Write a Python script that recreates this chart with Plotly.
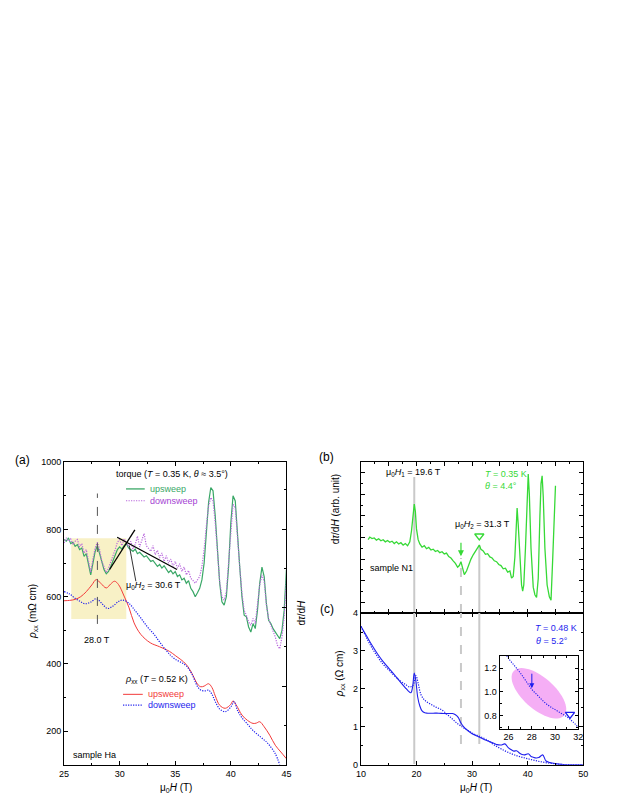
import numpy as np
import plotly.graph_objects as go

W, HH = 623, 806
FONT = "Liberation Sans, Arial, sans-serif"


def px(x):
    return x / W


def py(y):
    return 1 - y / HH


# ---------------- Panel (a) data ----------------
a_field = [round(25 + 0.2 * i, 1) for i in range(101)]
a_torque_up = [
    6.70, 6.65, 6.75, 6.58, 6.62, 6.50, 6.55, 6.40, 6.45, 6.20,
    6.28, 5.90, 5.65, 6.00, 6.35, 6.52, 6.25, 6.00, 5.80, 5.68,
    5.75, 5.90, 6.05, 6.25, 6.40, 6.48, 6.42, 6.52, 6.58, 6.45,
    6.40, 6.35, 6.42, 6.28, 6.32, 6.25, 6.18, 6.22, 6.12, 6.05,
    6.08, 6.00, 5.90, 5.96, 5.85, 5.92, 5.80, 5.72, 5.78, 5.68,
    5.75, 5.60, 5.65, 5.50, 5.55, 5.40, 5.48, 5.25, 5.15, 5.00,
    5.12, 5.25, 5.50, 6.00, 6.90, 7.80, 8.25, 8.15, 7.40, 6.40,
    5.40, 4.85, 4.75, 5.00, 5.90, 7.20, 8.00, 7.85, 7.00, 5.90,
    5.00, 4.45, 4.40, 4.10, 3.95, 4.20, 4.05, 4.60, 5.40, 5.88,
    5.60, 4.80, 4.30, 4.20, 4.05, 3.95, 3.85, 3.75, 4.00, 4.60,
    5.80]
a_torque_down = [
    6.60, 6.75, 6.65, 6.72, 6.55, 6.65, 6.70, 6.48, 6.58, 6.30,
    6.40, 6.00, 5.72, 6.12, 6.45, 6.62, 6.40, 6.05, 5.90, 5.72,
    5.85, 6.02, 6.20, 6.40, 6.62, 6.70, 6.52, 6.72, 6.60, 6.50,
    6.65, 6.42, 6.55, 6.80, 6.48, 6.70, 6.88, 6.52, 6.45, 6.35,
    6.52, 6.25, 6.38, 6.15, 6.30, 6.05, 6.22, 6.00, 6.12, 5.90,
    6.05, 5.85, 5.98, 5.75, 5.88, 5.65, 5.78, 5.55, 5.48, 5.40,
    5.50, 5.60, 5.90, 6.40, 7.10, 7.70, 7.95, 7.85, 7.20, 6.30,
    5.45, 5.00, 4.90, 5.15, 6.00, 7.10, 7.75, 7.65, 6.90, 5.90,
    5.10, 4.60, 4.45, 4.25, 4.15, 4.35, 4.20, 4.70, 5.35, 5.65,
    5.45, 4.75, 4.35, 4.15, 4.00, 3.80, 3.55, 3.45, 3.80, 4.40,
    5.50]

a_rho_up_H = [25, 25.5, 26, 26.5, 27, 27.5, 27.9, 28.3, 28.8, 29.2, 29.55, 29.9,
              30.4, 30.85, 31.3, 31.9, 32.75, 33.6, 34.5, 35, 35.5, 36, 36.5, 37,
              37.3, 37.6, 38, 38.3, 38.6, 39, 39.5, 40, 40.2, 40.5, 41, 41.5, 42,
              42.3, 42.6, 43, 43.5, 44, 44.5, 45]
a_rho_up = [588, 589, 592, 600, 615, 635, 651, 640, 626, 638, 646, 636,
            602, 567, 522, 488, 463, 451, 437, 425, 413, 398, 372, 340,
            332, 334, 341, 330, 305, 277, 268, 280, 290, 277, 248, 232, 223,
            224, 228, 213, 188, 158, 138, 118]

a_rho_down_H = [25, 25.5, 26, 26.5, 26.9, 27.4, 27.9, 28.4, 28.9, 29.4, 29.9, 30.3,
                30.85, 31.4, 31.9, 32.5, 33.1, 33.6, 34.2, 34.6, 35, 35.5, 36, 36.5,
                37, 37.3, 37.7, 38, 38.3, 38.6, 39, 39.5, 40, 40.3, 40.6, 41, 41.5,
                42, 42.7, 43.2, 43.5, 44, 44.4]
a_rho_down = [615, 608, 595, 585, 579, 584, 594, 580, 565, 572, 586, 590,
              580, 558, 537, 510, 488, 465, 440, 425, 414, 405, 394, 370,
              333, 322, 320, 322, 310, 288, 266, 258, 272, 288, 262, 240, 221,
              202, 182, 168, 157, 133, 100]

# ---------------- Panel (b) data ----------------
b_H = [11.3, 11.6, 12.0, 12.4, 12.8, 13.2, 13.6, 14.0, 14.4, 14.8,
       15.2, 15.6, 16.0, 16.4, 16.8, 17.2, 17.6, 18.0, 18.4, 18.8,
       19.1, 19.4, 19.6, 19.8, 20.0, 20.3, 20.6, 21.0, 21.4, 21.8,
       22.2, 22.6, 23.0, 23.4, 23.8, 24.2, 24.6, 25.0, 25.4, 25.8,
       26.2, 26.6, 27.0, 27.4, 27.7, 28.0, 28.3, 28.6, 29.0, 29.4,
       29.8, 30.2, 30.6, 31.0, 31.3, 31.6, 32.0, 32.4, 32.8, 33.2,
       33.6, 34.0, 34.4, 34.8, 35.2, 35.6, 36.0, 36.4, 36.8, 37.1,
       37.4, 37.7, 37.9, 38.1, 38.3, 38.6, 38.9, 39.1, 39.3, 39.6,
       39.9, 40.1, 40.3, 40.6, 41.0, 41.3, 41.6, 41.9, 42.2, 42.4,
       42.6, 42.8, 43.1, 43.5, 43.9, 44.2, 44.5, 44.8, 45.0]
b_dtau = [3.40, 3.52, 3.45, 3.48, 3.38, 3.44, 3.35, 3.40, 3.30, 3.36,
          3.28, 3.33, 3.22, 3.30, 3.20, 3.26, 3.15, 3.22, 3.12, 3.30,
          3.80, 4.60, 5.05, 4.70, 3.90, 3.40, 3.20, 3.05, 3.12, 2.98,
          3.04, 2.92, 2.96, 2.85, 2.90, 2.80, 2.84, 2.74, 2.78, 2.62,
          2.55, 2.42, 2.30, 2.12, 2.20, 2.38, 2.00, 1.78, 1.95, 2.25,
          2.50, 2.70, 2.88, 3.02, 3.15, 2.95, 2.88, 2.72, 2.75, 2.60,
          2.55, 2.42, 2.38, 2.25, 2.20, 2.05, 2.08, 1.90, 1.95, 1.62,
          1.70, 2.60, 4.00, 4.87, 4.10, 2.40, 1.30, 1.02, 1.30, 3.00,
          5.80, 6.44, 5.50, 3.00, 1.20, 0.85, 0.72, 1.60, 4.50, 6.00,
          6.36, 5.40, 3.00, 1.30, 0.75, 0.60, 2.50, 4.80, 5.90]
b_marker_H = [31.3]
b_marker_val = [3.57]

# ---------------- Panel (c) data ----------------
c_up_H = [10, 11, 12, 13, 14, 15, 16, 17, 18, 18.5, 19.0, 19.3, 19.6, 19.9, 20.2,
          20.6, 21.0, 21.5, 22, 23, 24, 25, 26, 26.5, 27, 27.5, 28, 28.5, 29, 30,
          31, 32, 33, 34, 34.5, 35.2, 35.9, 36.5, 37, 37.5, 38, 38.5, 39, 39.5,
          40.1, 40.6, 41, 41.5, 42, 42.7, 43.3, 44, 45, 46, 47, 50]
c_up = [3.65, 3.40, 3.15, 2.92, 2.72, 2.55, 2.38, 2.20, 2.03, 1.95, 1.90, 2.05,
        2.42, 2.20, 1.80, 1.55, 1.42, 1.37, 1.36, 1.36, 1.36, 1.35, 1.35, 1.35,
        1.32, 1.25, 1.10, 1.00, 0.93, 0.82, 0.75, 0.68, 0.62, 0.56, 0.53, 0.52,
        0.55, 0.45, 0.40, 0.36, 0.37, 0.31, 0.27, 0.26, 0.29, 0.22, 0.20, 0.18,
        0.19, 0.26, 0.10, 0.06, 0.03, 0.01, 0.0, 0.0]
c_down_H = [10, 11, 12, 13, 14, 15, 16, 17, 18, 18.8, 19.4, 19.9, 20.3, 20.8,
            21.5, 22.5, 23.5, 24.5, 25.5, 26.5, 27.5, 28.5, 29.5, 30.5, 31.5,
            32.5, 34, 36, 38, 40, 42, 44, 46, 48, 50]
c_down = [3.65, 3.35, 3.08, 2.85, 2.65, 2.50, 2.35, 2.22, 2.12, 2.05, 2.10, 2.35,
          2.15, 1.85, 1.70, 1.60, 1.52, 1.45, 1.33, 1.20, 1.07, 0.97, 0.88, 0.80,
          0.74, 0.67, 0.52, 0.36, 0.24, 0.16, 0.09, 0.04, 0.01, 0.0, 0.0]
inset_H = [25.6, 26.0, 26.5, 27.0, 27.5, 28.0, 28.5, 29.0, 29.5, 30.0, 30.5,
           31.0, 31.5, 32.0]
inset_rho = [1.34, 1.28, 1.22, 1.16, 1.09, 1.02, 0.97, 0.92, 0.88, 0.85, 0.82,
             0.79, 0.75, 0.70]
inset_marker_H = [31.28]
inset_marker_val = [0.81]

# ---------------- colours ----------------
GREEN_A = "#3aa767"
VIOLET = "#b866dd"
VIOLET_T = "#a53fd3"
RED = "#f23a3a"
BLUE = "#1e1eee"
GREEN_B = "#36d936"
GRAY = "#c9c9c9"
DOT = "1.2px,1.3px"

fig = go.Figure()

# Panel (a)
fig.add_trace(go.Scatter(x=a_rho_up_H, y=a_rho_up, mode="lines",
                         line=dict(color=RED, width=1, shape="spline"), xaxis="x", yaxis="y"))
fig.add_trace(go.Scatter(x=a_rho_down_H, y=a_rho_down, mode="lines",
                         line=dict(color=BLUE, width=1.2, dash=DOT, shape="spline"),
                         xaxis="x", yaxis="y"))
fig.add_trace(go.Scatter(x=a_field, y=a_torque_up, mode="lines",
                         line=dict(color=GREEN_A, width=1.2), xaxis="x", yaxis="y2"))
fig.add_trace(go.Scatter(x=a_field, y=a_torque_down, mode="lines",
                         line=dict(color=VIOLET, width=1.2, dash=DOT), xaxis="x", yaxis="y2"))

# Panel (b)
fig.add_trace(go.Scatter(x=b_H, y=b_dtau, mode="lines",
                         line=dict(color=GREEN_B, width=1.3), xaxis="x2", yaxis="y3"))
fig.add_trace(go.Scatter(x=b_marker_H, y=b_marker_val, mode="markers",
                         marker=dict(symbol="triangle-down-open", size=8, color=GREEN_B,
                                     line=dict(width=1.3, color=GREEN_B)),
                         xaxis="x2", yaxis="y3"))

# Panel (c)
fig.add_trace(go.Scatter(x=c_up_H, y=c_up, mode="lines",
                         line=dict(color=BLUE, width=1.1, shape="spline"), xaxis="x3", yaxis="y4"))
fig.add_trace(go.Scatter(x=c_down_H, y=c_down, mode="lines",
                         line=dict(color=BLUE, width=1.2, dash=DOT, shape="spline"),
                         xaxis="x3", yaxis="y4"))

# Inset
fig.add_trace(go.Scatter(x=inset_H, y=inset_rho, mode="lines",
                         line=dict(color=BLUE, width=1.1, dash=DOT, shape="spline"),
                         xaxis="x4", yaxis="y5", cliponaxis=True))
fig.add_trace(go.Scatter(x=inset_marker_H, y=inset_marker_val, mode="markers",
                         marker=dict(symbol="triangle-down-open", size=8, color=BLUE,
                                     line=dict(width=1.3, color=BLUE)),
                         xaxis="x4", yaxis="y5"))

tickfont = dict(size=9, color="black", family=FONT)


def ax(**kw):
    d = dict(showline=True, linecolor="black", linewidth=1, ticks="inside", ticklen=4,
             tickcolor="black", tickwidth=1, showgrid=False, zeroline=False,
             tickfont=tickfont)
    d.update(kw)
    return d


def minor(dt, t0=None):
    m = dict(ticks="inside", ticklen=2, tickcolor="black", dtick=dt, showgrid=False)
    if t0 is not None:
        m["tick0"] = t0
    return m


layout = dict(
    width=W, height=HH, margin=dict(l=0, r=0, t=0, b=0),
    paper_bgcolor="white", plot_bgcolor="rgba(0,0,0,0)",
    showlegend=False, font=dict(family=FONT, color="black", size=9),
    xaxis=ax(domain=[px(60), px(286)], range=[25, 45], anchor="y", dtick=5,
             mirror="ticks", minor=minor(2.5)),
    yaxis=ax(domain=[py(769.3), py(463)], range=[100, 1000], anchor="x",
             tick0=0, dtick=200, minor=minor(100)),
    yaxis2=ax(overlaying="y", side="right", anchor="x", range=[0, 9], tick0=0,
              dtick=2.338, showticklabels=False, minor=minor(1.169, 0)),
    xaxis2=ax(domain=[px(361.7), px(587.7)], range=[10, 50], anchor="y3", dtick=5,
              showticklabels=False, mirror="ticks", minor=minor(2.5)),
    yaxis3=ax(domain=[py(615.7), py(462.7)], range=[0, 7], anchor="x2", tick0=0.5,
              dtick=1, showticklabels=False, mirror="ticks", minor=minor(0.5, 0)),
    xaxis3=ax(domain=[px(361.7), px(587.7)], range=[10, 50], anchor="y4", dtick=10,
              mirror="ticks", minor=minor(5)),
    yaxis4=ax(domain=[py(769.3), py(615.7)], range=[0, 4], anchor="x3", dtick=1,
              mirror="ticks", minor=minor(0.5)),
    xaxis4=ax(domain=[px(502.7), px(582.7)], range=[25.23, 32], anchor="y5", tick0=26,
              dtick=2, mirror="ticks", ticklen=3, minor=minor(1)),
    yaxis5=ax(domain=[py(732.7), py(659.3)], range=[0.69, 1.3], anchor="x4", tick0=0,
              dtick=0.2, tickformat=".1f", mirror="ticks", ticklen=3, minor=minor(0.1)),
)

shapes = []
# yellow highlighted region (a)
shapes.append(dict(type="rect", xref="x", yref="y", x0=25.65, x1=30.6, y0=534, y1=774,
                   fillcolor="#f8f1c6", line=dict(width=0), layer="below"))
# dashed line at 28 T (a)
shapes.append(dict(type="line", xref="x", yref="y", x0=28, x1=28, y0=519, y1=907,
                   line=dict(color="#555555", width=1, dash="dash")))
# tangent lines (a)
shapes.append(dict(type="line", xref="x", yref="y", x0=29.1, y0=681, x1=31.37, y1=799,
                   line=dict(color="black", width=1.3)))
shapes.append(dict(type="line", xref="x", yref="y", x0=29.78, y0=777, x1=35.16, y1=681,
                   line=dict(color="black", width=1.3)))
shapes.append(dict(type="line", xref="x", yref="y", x0=30.87, y0=752, x1=31.46, y1=646,
                   line=dict(color="black", width=0.8)))
# legend line samples (a)
shapes.append(dict(type="line", xref="paper", yref="paper", x0=px(123), x1=px(142),
                   y0=py(490), y1=py(490), line=dict(color=GREEN_A, width=1.3)))
shapes.append(dict(type="line", xref="paper", yref="paper", x0=px(123), x1=px(142),
                   y0=py(502), y1=py(502), line=dict(color=VIOLET, width=1.2, dash=DOT)))
shapes.append(dict(type="line", xref="paper", yref="paper", x0=px(120), x1=px(140),
                   y0=py(698), y1=py(698), line=dict(color=RED, width=1)))
shapes.append(dict(type="line", xref="paper", yref="paper", x0=px(120), x1=px(140),
                   y0=py(709), y1=py(709), line=dict(color=BLUE, width=1.2, dash=DOT)))
# gray vertical guides (b) and (c)
shapes.append(dict(type="line", xref="x2", yref="y3", x0=19.6, x1=19.6, y0=0, y1=6.3,
                   line=dict(color=GRAY, width=2), layer="below"))
shapes.append(dict(type="line", xref="x2", yref="y3", x0=31.3, x1=31.3, y0=0, y1=3.14,
                   line=dict(color=GRAY, width=2), layer="below"))
shapes.append(dict(type="line", xref="x2", yref="y3", x0=28, x1=28, y0=0, y1=2.55,
                   line=dict(color=GRAY, width=2, dash="dash"), layer="below"))
shapes.append(dict(type="line", xref="x3", yref="y4", x0=19.6, x1=19.6, y0=0.02, y1=4,
                   line=dict(color=GRAY, width=2), layer="below"))
shapes.append(dict(type="line", xref="x3", yref="y4", x0=31.3, x1=31.3, y0=0.55, y1=4,
                   line=dict(color=GRAY, width=2), layer="below"))
shapes.append(dict(type="line", xref="x3", yref="y4", x0=28, x1=28, y0=0.55, y1=4,
                   line=dict(color=GRAY, width=2, dash="dash"), layer="below"))
# magenta ellipse in inset (geometry in pixel space, mapped to inset axes)
t = np.linspace(0, 2 * np.pi, 60)
ang = np.deg2rad(42)
A, B = 34.0, 16.0
dxp = A * np.cos(ang) * np.cos(t) - B * np.sin(ang) * np.sin(t)
dyp = A * np.sin(ang) * np.cos(t) + B * np.cos(ang) * np.sin(t)
ex = 28.61 + dxp / 11.67
ey = 0.987 - dyp / 121.0
path = "M " + " L ".join(f"{a:.4f},{b:.4f}" for a, b in zip(ex, ey)) + " Z"
shapes.append(dict(type="path", xref="x4", yref="y5", path=path,
                   fillcolor="#f5aef5", line=dict(width=0), layer="below"))
layout["shapes"] = shapes


def ann(text, x, y, xanchor="center", size=9, color="black", angle=0):
    return dict(text=text, x=px(x), y=py(y), xref="paper", yref="paper",
                xanchor=xanchor, yanchor="middle", showarrow=False,
                font=dict(size=size, color=color, family=FONT), textangle=angle)


anns = [
    ann("(a)", 18, 461, size=12),
    ann("(b)", 327, 458, size=12),
    ann("(c)", 327, 612, size=12),
    ann("torque (<i>T</i> = 0.35 K, <i>θ</i> ≈ 3.5°)", 170, 475, size=9),
    ann("upsweep", 145, 490, xanchor="left", size=9, color=GREEN_A),
    ann("downsweep", 145, 502, xanchor="left", size=9, color=VIOLET_T),
    ann("28.0 T", 94, 643, size=9),
    ann("μ<sub>0</sub><i>H</i><sub>2</sub> = 30.6 T", 120.5, 588, xanchor="left", size=9),
    ann("<i>ρ</i><sub>xx</sub> (<i>T</i> = 0.52 K)", 120, 683, xanchor="left", size=9),
    ann("upsweep", 143, 698, xanchor="left", size=9, color=RED),
    ann("downsweep", 143, 709, xanchor="left", size=9, color=BLUE),
    ann("sample Ha", 67, 759, xanchor="left", size=9),
    ann("<i>ρ</i><sub>xx</sub> (mΩ cm)", 29, 614, size=10, angle=-90),
    ann("d<i>τ</i>/d<i>H</i>", 301, 615, size=10, angle=-90),
    ann("μ<sub>0</sub><i>H</i> (T)", 174, 793, size=10),
    ann("μ<sub>0</sub><i>H</i><sub>1</sub> = 19.6 T", 415, 473, size=9),
    ann("<i>T</i> = 0.35 K", 486, 475, xanchor="left", size=9, color=GREEN_B),
    ann("<i>θ</i> = 4.4°", 486, 487.5, xanchor="left", size=9, color=GREEN_B),
    ann("μ<sub>0</sub><i>H</i><sub>2</sub> = 31.3 T", 485, 526, size=9),
    ann("sample N1", 369, 570, xanchor="left", size=9),
    ann("d<i>τ</i>/d<i>H</i> (arb. unit)", 336, 511, size=10, angle=-90),
    ann("<i>ρ</i><sub>xx</sub> (Ω cm)", 340, 677, size=10, angle=-90),
    ann("<i>T</i> = 0.48 K", 537, 631, xanchor="left", size=9, color=BLUE),
    ann("<i>θ</i> = 5.2°", 538, 643.5, xanchor="left", size=9, color=BLUE),
    ann("μ<sub>0</sub><i>H</i> (T)", 479, 793, size=10),
    # arrows
    dict(x=28, y=2.63, xref="x2", yref="y3", ax=0, ay=-15, showarrow=True,
         arrowhead=2, arrowsize=1, arrowwidth=1.2, arrowcolor=GREEN_B, text=""),
    dict(x=28, y=1.03, xref="x4", yref="y5", ax=0, ay=-16, showarrow=True,
         arrowhead=2, arrowsize=1, arrowwidth=1, arrowcolor=BLUE, text=""),
]
layout["annotations"] = anns

fig.update_layout(**layout)
fig.write_html("out.html",
               config=dict(displayModeBar=False, staticPlot=True),
               post_script="document.body.style.margin='0px';document.body.style.padding='0px';")
